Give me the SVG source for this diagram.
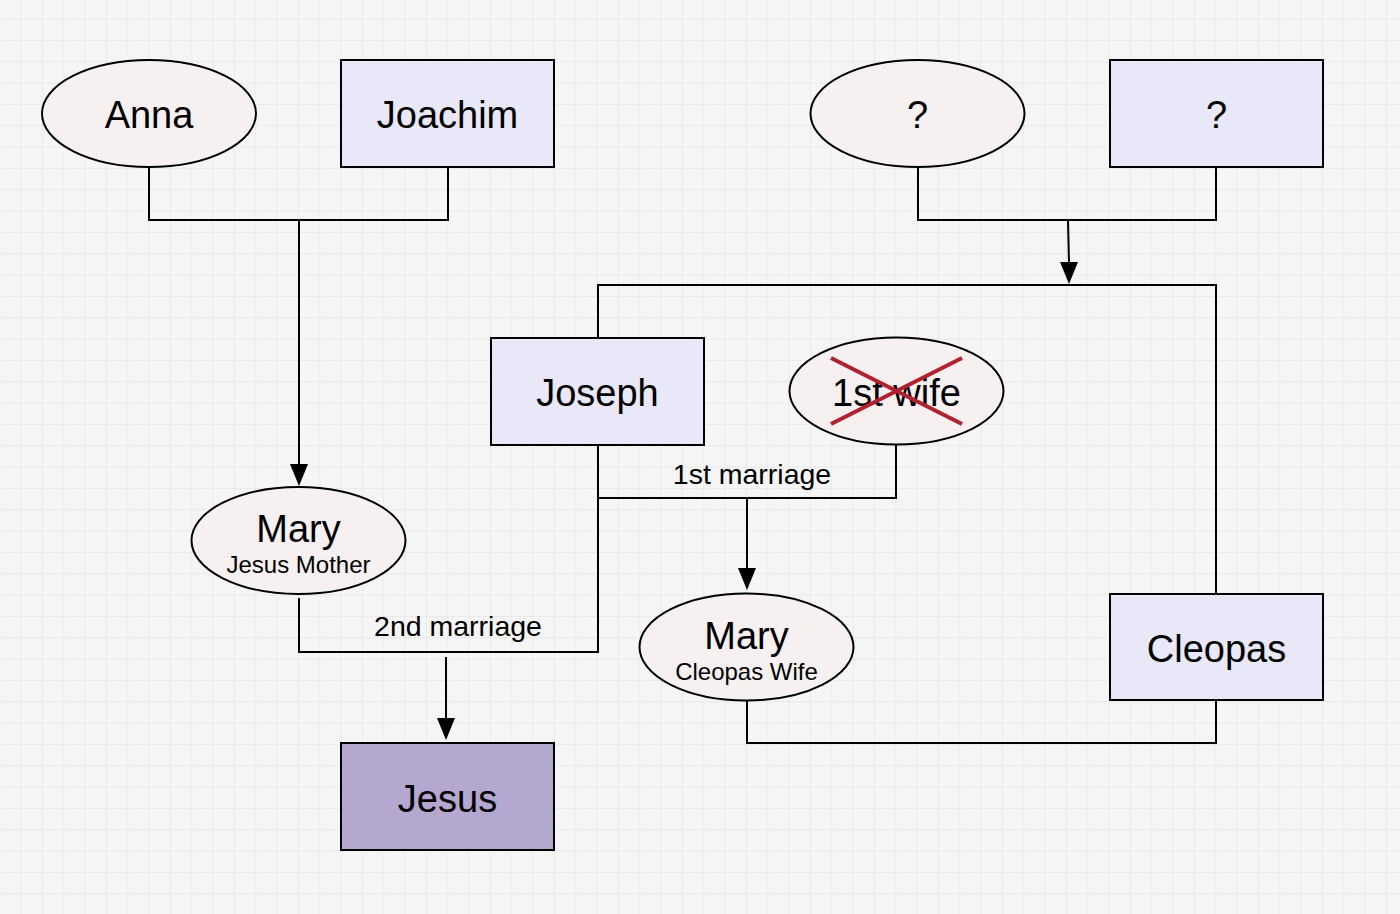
<svg xmlns="http://www.w3.org/2000/svg" width="1400" height="914" viewBox="0 0 1400 914">
<defs>
<pattern id="grid" x="-0.6" y="-2.7" width="21.333" height="21.333" patternUnits="userSpaceOnUse">
<path d="M0 0H21.333M0 0V21.333" fill="none" stroke="#dedede" stroke-width="1"/>
</pattern>
<style>
.ell{fill:#f6f0f0;stroke:#000;stroke-width:2}
.box{fill:#e8e8f8;stroke:#000;stroke-width:2}
.big{font-family:"Liberation Sans",Arial,sans-serif;font-size:38px;fill:#000;text-anchor:middle}
.sub{font-family:"Liberation Sans",Arial,sans-serif;font-size:24px;fill:#000;text-anchor:middle}
.lbl{font-family:"Liberation Sans",Arial,sans-serif;font-size:28.5px;fill:#000;text-anchor:middle}
.ln{fill:none;stroke:#000;stroke-width:2}
</style>
</defs>
<rect width="1400" height="914" fill="#f5f5f5"/>
<rect width="1400" height="914" fill="url(#grid)"/>
<g id="connectors">
<path class="ln" d="M149 167V220H448V167"/>
<path class="ln" d="M299 220V466"/>
<path class="ln" d="M918 167V220H1216V167"/>
<path class="ln" d="M1068 220L1069 263"/>
<path class="ln" d="M598 338V285H1216V594"/>
<path class="ln" d="M598 445V498H896V445"/>
<path class="ln" d="M747 498V569"/>
<path class="ln" d="M598 498V652H299V598"/>
<path class="ln" d="M446 657V719"/>
<path class="ln" d="M747 700V743H1216V700"/>
<path d="M1060 262L1078 262L1069 284Z" fill="#000"/>
<path d="M290 464L308 464L299 486Z" fill="#000"/>
<path d="M738 568L756 568L747 590Z" fill="#000"/>
<path d="M437 718L455 718L446 740Z" fill="#000"/>
<text class="lbl" x="752" y="484">1st marriage</text>
<text class="lbl" x="458" y="636">2nd marriage</text>
</g>
<g id="anna"><ellipse class="ell" cx="149" cy="113.5" rx="107" ry="53.5"/><text class="big" x="149" y="128">Anna</text></g>
<g id="joachim"><rect class="box" x="341" y="60" width="213" height="107"/><text class="big" x="447.5" y="128">Joachim</text></g>
<g id="unknown-mother"><ellipse class="ell" cx="917.5" cy="113.5" rx="107" ry="53.5"/><text class="big" x="917.5" y="128">?</text></g>
<g id="unknown-father"><rect class="box" x="1110" y="60" width="213" height="107"/><text class="big" x="1216.5" y="128">?</text></g>
<g id="joseph"><rect class="box" x="491" y="338" width="213" height="107"/><text class="big" x="597.5" y="406">Joseph</text></g>
<g id="first-wife"><ellipse class="ell" cx="896.5" cy="391" rx="107" ry="53.5"/><text class="big" x="896.5" y="406">1st wife</text>
<path d="M831 358L962 424M831 424L962 358" stroke="#b3202e" stroke-width="4" fill="none"/></g>
<g id="mary-mother"><ellipse class="ell" cx="298.5" cy="540.5" rx="107" ry="53.5"/><text class="big" x="298.5" y="542">Mary</text><text class="sub" x="298.5" y="573">Jesus Mother</text></g>
<g id="mary-cleopas"><ellipse class="ell" cx="746.5" cy="647" rx="107" ry="53.5"/><text class="big" x="746.5" y="649">Mary</text><text class="sub" x="746.5" y="680">Cleopas Wife</text></g>
<g id="cleopas"><rect class="box" x="1110" y="594" width="213" height="106"/><text class="big" x="1216.5" y="662">Cleopas</text></g>
<g id="jesus"><rect x="341" y="743" width="213" height="107" fill="#b4a8d0" stroke="#000" stroke-width="2"/><text class="big" x="447.5" y="812">Jesus</text></g>
</svg>
